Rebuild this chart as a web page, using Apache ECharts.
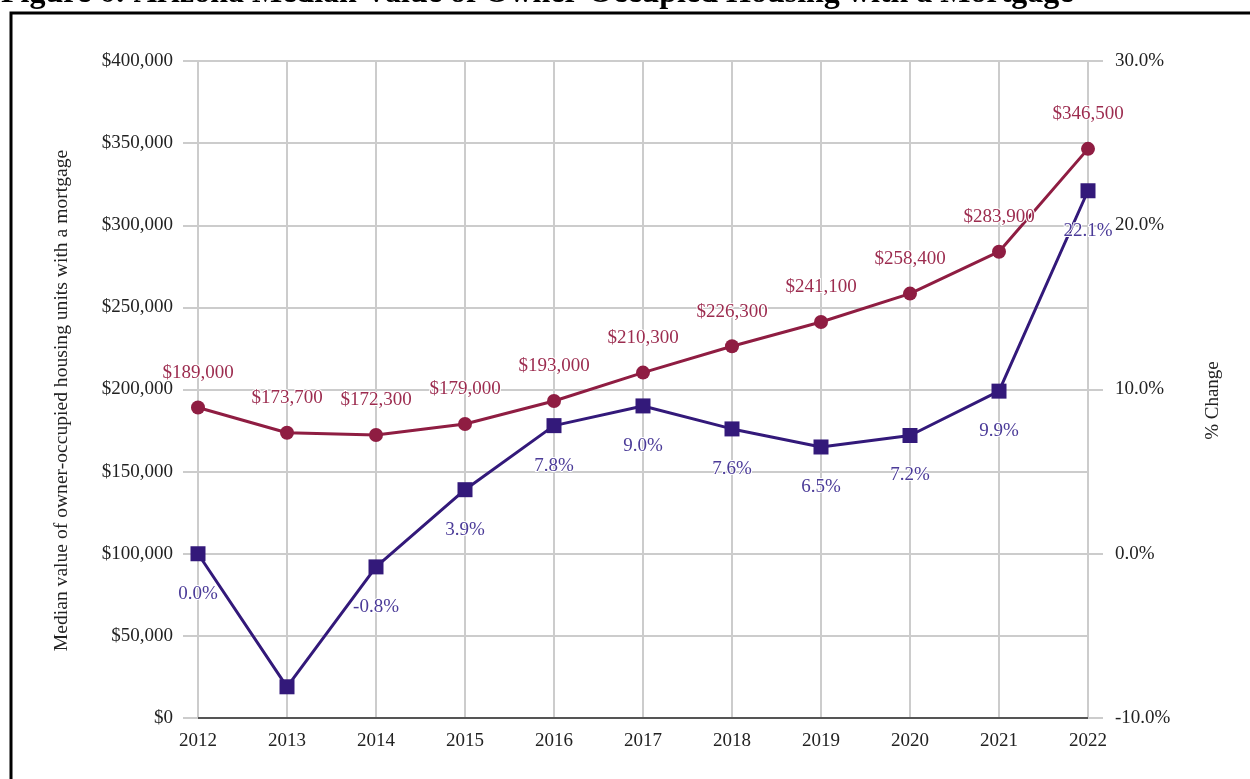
<!DOCTYPE html>
<html>
<head>
<meta charset="utf-8">
<script src="https://cdn.jsdelivr.net/npm/echarts@6/dist/echarts.min.js"></script>
<style>
  html, body { margin: 0; padding: 0; background: #fff; }
  #chart { width: 1250px; height: 779px; }
</style>
</head>
<body>
<div id="chart"></div>
<script>
// data
const years = ['2012', '2013', '2014', '2015', '2016', '2017', '2018', '2019', '2020', '2021', '2022'];
const medianValue = [189000, 173700, 172300, 179000, 193000, 210300, 226300, 241100, 258400, 283900, 346500];
const pctChange = [0.0, -8.1, -0.8, 3.9, 7.8, 9.0, 7.6, 6.5, 7.2, 9.9, 22.1];
const hiddenPctLabels = ['2013'];

const serif = 'Liberation Serif';
const red = '#8f1d42';
const redLabel = '#9c2c4f';
const purple = '#33197a';
const purpleLabel = '#4b3b98';

const money = v => '$' + Number(v).toLocaleString('en-US');
const pct = v => Number(v).toFixed(1) + '%';

const chart = echarts.init(document.getElementById('chart'));
chart.setOption({
    animation: false,
    textStyle: { fontFamily: serif },
    graphic: [
        {
            type: 'text',
            left: 1,
            top: -22,
            style: {
                text: 'Figure 6: Arizona Median Value of Owner-Occupied Housing with a Mortgage',
                font: 'bold 32px "Liberation Serif"',
                fill: '#000'
            }
        },
        {
            type: 'rect',
            shape: { x: 11, y: 13, width: 1400, height: 900 },
            style: { fill: 'none', stroke: '#000', lineWidth: 3 },
            silent: true
        }
    ],
    grid: { left: 198, right: 162, top: 61, bottom: 61 },
    xAxis: {
        type: 'category',
        data: years,
        boundaryGap: false,
        axisLine: { lineStyle: { color: '#555', width: 2 } },
        axisTick: { show: false },
        axisLabel: { color: '#222', fontSize: 19, fontFamily: serif, margin: 14 },
        splitLine: { show: true, lineStyle: { color: '#ccc', width: 2 } }
    },
    yAxis: [
        {
            type: 'value',
            min: 0,
            max: 400000,
            interval: 50000,
            name: 'Median value of owner-occupied housing units with a mortgage',
            nameLocation: 'middle',
            nameGap: 126,
            nameTextStyle: { color: '#222', fontSize: 19.6, fontFamily: serif, padding: [0, 22, 0, 0] },
            axisLine: { show: false },
            axisTick: { show: true, inside: false, length: 15, lineStyle: { color: '#ccc', width: 2 } },
            axisLabel: { color: '#222', fontSize: 19, fontFamily: serif, margin: 25, formatter: money },
            splitLine: { lineStyle: { color: '#ccc', width: 2 } }
        },
        {
            type: 'value',
            min: -10,
            max: 30,
            interval: 10,
            position: 'right',
            name: '% Change',
            nameLocation: 'middle',
            nameGap: 116,
            nameRotate: 90,
            nameTextStyle: { color: '#222', fontSize: 19, fontFamily: serif, padding: [0, 22, 0, 0] },
            axisLine: { show: false },
            axisTick: { show: true, inside: false, length: 15, lineStyle: { color: '#ccc', width: 2 } },
            axisLabel: { color: '#222', fontSize: 19, fontFamily: serif, margin: 27, formatter: pct },
            splitLine: { show: false }
        }
    ],
    series: [
        {
            name: 'Median value',
            type: 'line',
            yAxisIndex: 0,
            data: medianValue,
            symbol: 'circle',
            symbolSize: 14,
            lineStyle: { color: red, width: 3 },
            itemStyle: { color: red },
            label: {
                show: true,
                position: 'top',
                distance: 18,
                color: redLabel,
                fontSize: 19,
                fontFamily: serif,
                textBorderColor: '#fff',
                textBorderWidth: 2,
                formatter: p => money(p.value)
            },
            z: 3
        },
        {
            name: '% Change',
            type: 'line',
            yAxisIndex: 1,
            data: pctChange.map((v, i) => hiddenPctLabels.includes(years[i])
                ? { value: v, label: { show: false } }
                : v),
            symbol: 'rect',
            symbolSize: 15,
            lineStyle: { color: purple, width: 3 },
            itemStyle: { color: purple },
            label: {
                show: true,
                position: 'bottom',
                distance: 23,
                color: purpleLabel,
                fontSize: 19,
                fontFamily: serif,
                textBorderColor: '#fff',
                textBorderWidth: 2,
                formatter: p => pct(p.value)
            },
            z: 4
        }
    ]
});
</script>
</body>
</html>
